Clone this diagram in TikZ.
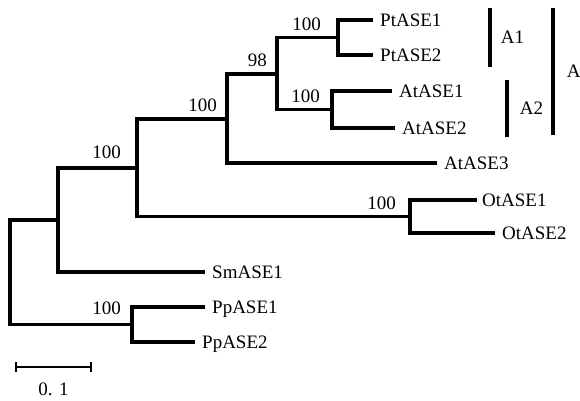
\documentclass[tikz,border=0pt]{standalone}
\usepackage{fontspec}
\setmainfont{Liberation Serif}
\usetikzlibrary{arrows.meta, positioning}

\tikzset{
  branch/.style={line width=3.2pt},
  taxon/.style={anchor=west, inner xsep=7pt, inner ysep=0pt, text height=12.5pt, text depth=0pt},
  boot/.style={inner sep=0pt, text height=12.5pt, text depth=0pt},
  clade/.style={line width=3.6pt},
  cladelabel/.style={inner sep=0pt, text height=12.5pt, text depth=0pt},
  scalebar/.style={line width=2.4pt, {Bar[width=10pt]}-{Bar[width=10pt]}}
}

\begin{document}
\begin{tikzpicture}[x=1pt, y=-1pt, font=\fontsize{19}{21}\selectfont]
    \useasboundingbox (0,0) rectangle (580,400);

    % Internal nodes of the tree
    \coordinate (root) at (10,272);
    \coordinate (nA) at (58,220);
    \coordinate (nB) at (137,168);
    \coordinate (nC) at (227,119);
    \coordinate (nD) at (277,74);
    \coordinate (nPt) at (338,37.5);
    \coordinate (nAt) at (332,109.5);
    \coordinate (nOt) at (410,216.5);
    \coordinate (nPp) at (132,324.5);

    % Taxa
    \node[taxon] (tPt1) at (373,20) {PtASE1};
    \node[taxon] (tPt2) at (373,55) {PtASE2};
    \node[taxon] (tAt1) at (392,91) {AtASE1};
    \node[taxon] (tAt2) at (395,128) {AtASE2};
    \node[taxon] (tAt3) at (437,163) {AtASE3};
    \node[taxon, inner xsep=5pt] (tOt1) at (477,200) {OtASE1};
    \node[taxon] (tOt2) at (495,233) {OtASE2};
    \node[taxon] (tSm1) at (205,272) {SmASE1};
    \node[taxon] (tPp1) at (205,307) {PpASE1};
    \node[taxon] (tPp2) at (195,342) {PpASE2};

    % Branches
    \draw[branch] (root) |- (nA);
    \draw[branch] (root) |- (nPp);
    \draw[branch] (nA) |- (nB);
    \draw[branch] (nA) |- (tSm1.west);
    \draw[branch] (nB) |- (nC);
    \draw[branch] (nB) |- (nOt);
    \draw[branch] (nC) |- (nD);
    \draw[branch] (nC) |- (tAt3.west);
    \draw[branch] (nD) |- (nPt);
    \draw[branch] (nD) |- (nAt);
    \draw[branch] (nPt) |- (tPt1.west);
    \draw[branch] (nPt) |- (tPt2.west);
    \draw[branch] (nAt) |- (tAt1.west);
    \draw[branch] (nAt) |- (tAt2.west);
    \draw[branch] (nOt) |- (tOt1.west);
    \draw[branch] (nOt) |- (tOt2.west);
    \draw[branch] (nPp) |- (tPp1.west);
    \draw[branch] (nPp) |- (tPp2.west);

    % Bootstrap values
    \node[boot, above left=9pt and 16pt of nB] (bB) {100};
    \node[boot, above left=7pt and 10pt of nC] (bC) {100};
    \node[boot, above left=7pt and 10pt of nD] (bD) {98};
    \node[boot, above left=7pt and 17pt of nPt] (bPt) {100};
    \node[boot, above left=7pt and 12pt of nAt] (bAt) {100};
    \node[boot, above left=7pt and 14pt of nOt] (bOt) {100};
    \node[boot, above left=10pt and 11pt of nPp] (bPp) {100};

    % Clade bars
    \coordinate (a1Top) at (490,8);
    \coordinate (a1Bot) at (490,67);
    \coordinate (a2Top) at (507,80);
    \coordinate (a2Bot) at (507,137);
    \coordinate (aTop) at (553,8);
    \coordinate (aBot) at (553,135);
    \draw[clade] (a1Top) -- (a1Bot) node[cladelabel, midway, right=9pt] (lA1) {A1};
    \draw[clade] (a2Top) -- (a2Bot) node[cladelabel, midway, right=11pt] (lA2) {A2};
    \draw[clade] (aTop) -- (aBot) node[cladelabel, midway, right=12pt] (lA) {A};

    % Scale bar
    \coordinate (s0) at (15,367);
    \coordinate (s1) at (92,367);
    \draw[scalebar] (s0) -- (s1) node[boot, midway, below=15pt] (sLab) {0. 1};
\end{tikzpicture}
\end{document}
